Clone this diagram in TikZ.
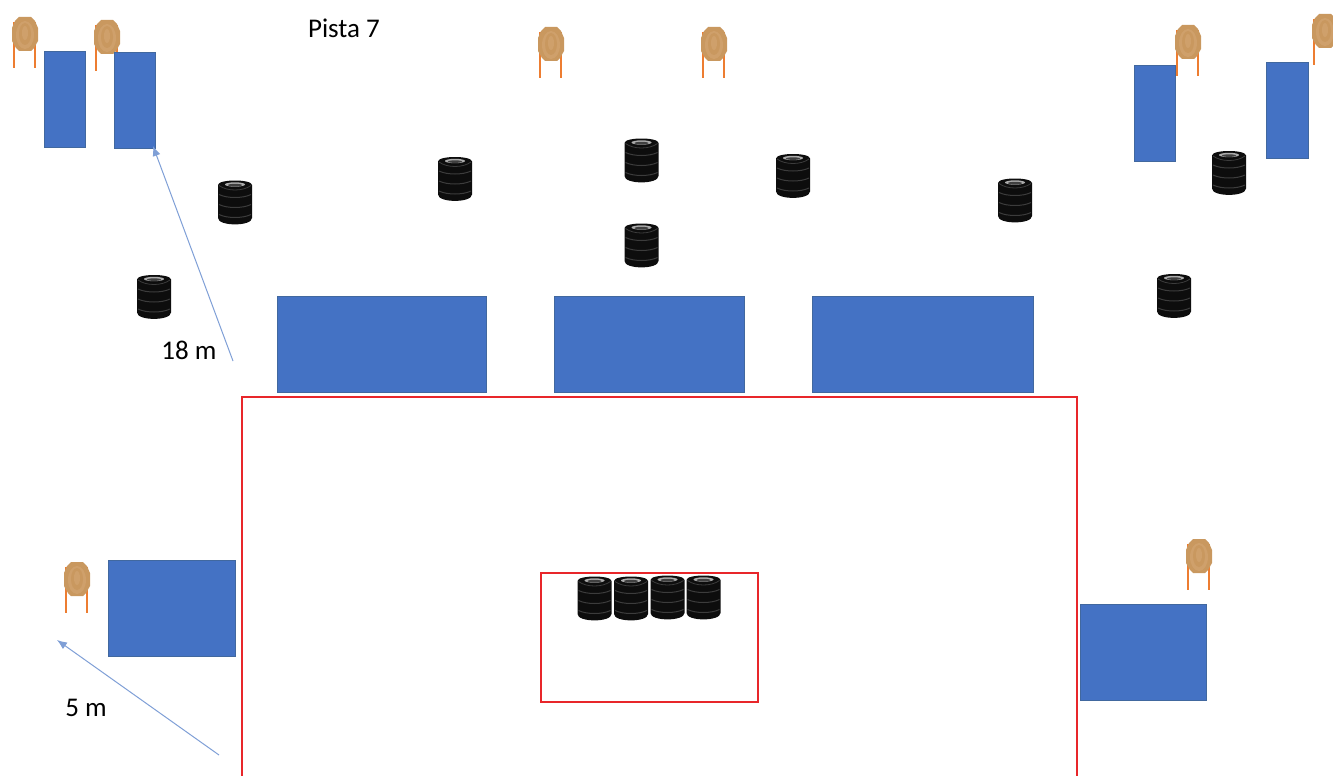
\documentclass[tikz,border=0pt]{standalone}
\usepackage{fontspec}
\setmainfont{Carlito}
\definecolor{blockblue}{HTML}{4472C4}
\definecolor{blockedge}{HTML}{41689F}
\definecolor{arrowblue}{HTML}{7F9FD6}
\definecolor{zonered}{HTML}{E8262A}
\definecolor{legorange}{HTML}{ED7D31}
\definecolor{targetA}{HTML}{C9985F}
\definecolor{targetB}{HTML}{CFA06B}
\definecolor{tiregrey}{HTML}{3C3C3C}
\tikzset{
  x=1pt,y=-1pt,
  block/.style={fill=blockblue,draw=blockedge,line width=0.8pt},
  zone/.style={draw=zonered,line width=1.5pt},
  span/.style={draw=arrowblue,line width=1pt,-{Latex[length=10pt,width=8pt]}},
  lbl/.style={font=\fontsize{27}{30}\selectfont,text=black,inner sep=0pt},
  target/.pic={
    \draw[legorange,line width=2.8pt] (-11,-12)--(-11,34) (10,-12)--(10,34);
    \fill[targetA] (-6,-17)--(6,-17)--(10,-13)--(13,-6)--(13,7)--(9,14)--(6,17)--(-6,17)--(-9,14)--(-13,7)--(-13,-6)--(-10,-13)--cycle;
    \fill[targetB] (0,1) ellipse [x radius=9,y radius=14];
    \fill[targetA] (0,0) ellipse [x radius=6,y radius=11];
    \fill[targetB] (0,-1) ellipse [x radius=3,y radius=7];
  },
  tirestack/.pic={
    \fill[black!95] (-17,4.5) .. controls (-17,-1.5) and (17,-1.5) .. (17,4.5) -- (17,37.5)
      .. controls (17,46) and (-17,46) .. (-17,37.5) -- cycle;
    \foreach \yy in {14,24,34}{
      \draw[tiregrey,line width=1pt] (-16,\yy) .. controls (-8,\yy+4) and (8,\yy+4) .. (16,\yy);
    }
    \draw[tiregrey,line width=0.8pt] (-16,5) .. controls (-8,11) and (8,11) .. (16,5);
    \fill[gray!65] (0,4) ellipse [x radius=10,y radius=2.2];
    \fill[black!75] (0,4.6) ellipse [x radius=7,y radius=1.3];
  }
}
\usetikzlibrary{arrows.meta}
\begin{document}
\begin{tikzpicture}
\useasboundingbox (0,0) rectangle (1333,776);
\clip (0,0) rectangle (1333,776);
% targets
\foreach \px/\py in {25/34,107/37,551/44,714/44,1188/42,1325/31,77/579,1199/556}{
  \pic at (\px,\py) {target};
}
% blocks
\draw[block] (44,51) rectangle (85.5,147);
\draw[block] (114,52) rectangle (155.5,148);
\draw[block] (1134,65) rectangle (1175.5,161);
\draw[block] (1266,62) rectangle (1308.5,158);
\draw[block] (277,296) rectangle (486.5,392);
\draw[block] (554,296) rectangle (744.5,392);
\draw[block] (812,296) rectangle (1033.5,392);
\draw[block] (108,560) rectangle (235.5,656);
\draw[block] (1080,604) rectangle (1206.5,700);
% tyres
\foreach \px/\py in {154/275,235/180.5,455/157,641.5/138.5,641.5/223.5,793/154,1015/178.5,1229/151,1174/274,594.5/576.5,631/576.5,667.5/575.5,703.5/575.5}{
  \pic at (\px,\py) {tirestack};
}
% zones
\draw[zone] (242,780) -- (242,397) -- (1077,397) -- (1077,780);
\draw[zone] (541,573) rectangle (758,702);
% measures
\coordinate (a1) at (233,361);
\coordinate (a2) at (153,146);
\coordinate (b1) at (219,755);
\coordinate (b2) at (57,640);
\draw[span] (a1) -- (a2);
\draw[span] (b1) -- (b2);
\node[lbl] (m18) at (189,350) {18 m};
\node[lbl] (m5) at (86,708) {5 m};
\node[lbl] (title) at (344,28) {Pista 7};
\end{tikzpicture}
\end{document}
